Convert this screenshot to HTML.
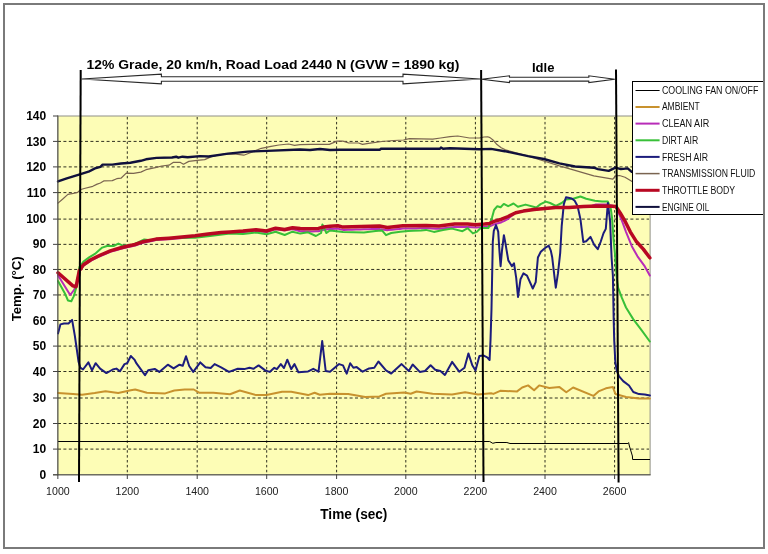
<!DOCTYPE html>
<html><head><meta charset="utf-8"><style>
html,body{margin:0;padding:0;background:#fff;width:768px;height:554px;overflow:hidden}
svg{display:block}
text{font-family:"Liberation Sans",Arial,sans-serif;fill:#000}
.yl{font-size:12px;font-weight:bold}
.xl{font-size:10.6px;fill:#222}
.tt{font-size:13px;font-weight:bold}
.at{font-size:13.8px;font-weight:bold}
.at2{font-size:13px;font-weight:bold}
.lg{font-size:10px;fill:#111}
</style></head><body>
<svg width="768" height="554" viewBox="0 0 768 554">
<rect width="768" height="554" fill="#fff"/>
<rect x="57.85" y="116" width="592.25" height="358.8" fill="#fdfdb6" stroke="#909088" stroke-width="1"/>
<line x1="58" y1="449.10" x2="649" y2="449.10" stroke="#303020" stroke-width="1" stroke-dasharray="3,2.4"/>
<line x1="58" y1="423.50" x2="649" y2="423.50" stroke="#303020" stroke-width="1" stroke-dasharray="3,2.4"/>
<line x1="58" y1="398.00" x2="649" y2="398.00" stroke="#303020" stroke-width="1" stroke-dasharray="3,2.4"/>
<line x1="58" y1="371.50" x2="649" y2="371.50" stroke="#303020" stroke-width="1" stroke-dasharray="3,2.4"/>
<line x1="58" y1="346.10" x2="649" y2="346.10" stroke="#303020" stroke-width="1" stroke-dasharray="3,2.4"/>
<line x1="58" y1="320.50" x2="649" y2="320.50" stroke="#303020" stroke-width="1" stroke-dasharray="3,2.4"/>
<line x1="58" y1="294.95" x2="649" y2="294.95" stroke="#303020" stroke-width="1" stroke-dasharray="3,2.4"/>
<line x1="58" y1="269.45" x2="649" y2="269.45" stroke="#303020" stroke-width="1" stroke-dasharray="3,2.4"/>
<line x1="58" y1="244.35" x2="649" y2="244.35" stroke="#303020" stroke-width="1" stroke-dasharray="3,2.4"/>
<line x1="58" y1="219.10" x2="649" y2="219.10" stroke="#303020" stroke-width="1" stroke-dasharray="3,2.4"/>
<line x1="58" y1="192.60" x2="649" y2="192.60" stroke="#303020" stroke-width="1" stroke-dasharray="3,2.4"/>
<line x1="58" y1="166.90" x2="649" y2="166.90" stroke="#303020" stroke-width="1" stroke-dasharray="3,2.4"/>
<line x1="58" y1="141.40" x2="649" y2="141.40" stroke="#303020" stroke-width="1" stroke-dasharray="3,2.4"/>
<line x1="127.30" y1="117" x2="127.30" y2="474" stroke="#303020" stroke-width="1" stroke-dasharray="2.5,2.4"/>
<line x1="197.20" y1="117" x2="197.20" y2="474" stroke="#303020" stroke-width="1" stroke-dasharray="2.5,2.4"/>
<line x1="266.70" y1="117" x2="266.70" y2="474" stroke="#303020" stroke-width="1" stroke-dasharray="2.5,2.4"/>
<line x1="336.60" y1="117" x2="336.60" y2="474" stroke="#303020" stroke-width="1" stroke-dasharray="2.5,2.4"/>
<line x1="405.80" y1="117" x2="405.80" y2="474" stroke="#303020" stroke-width="1" stroke-dasharray="2.5,2.4"/>
<line x1="475.40" y1="117" x2="475.40" y2="474" stroke="#303020" stroke-width="1" stroke-dasharray="2.5,2.4"/>
<line x1="545.00" y1="117" x2="545.00" y2="474" stroke="#303020" stroke-width="1" stroke-dasharray="2.5,2.4"/>
<line x1="614.60" y1="117" x2="614.60" y2="474" stroke="#303020" stroke-width="1" stroke-dasharray="2.5,2.4"/>
<line x1="53" y1="474.80" x2="58" y2="474.80" stroke="#404040" stroke-width="1"/>
<line x1="53" y1="449.10" x2="58" y2="449.10" stroke="#404040" stroke-width="1"/>
<line x1="53" y1="423.50" x2="58" y2="423.50" stroke="#404040" stroke-width="1"/>
<line x1="53" y1="398.00" x2="58" y2="398.00" stroke="#404040" stroke-width="1"/>
<line x1="53" y1="371.50" x2="58" y2="371.50" stroke="#404040" stroke-width="1"/>
<line x1="53" y1="346.10" x2="58" y2="346.10" stroke="#404040" stroke-width="1"/>
<line x1="53" y1="320.50" x2="58" y2="320.50" stroke="#404040" stroke-width="1"/>
<line x1="53" y1="294.95" x2="58" y2="294.95" stroke="#404040" stroke-width="1"/>
<line x1="53" y1="269.45" x2="58" y2="269.45" stroke="#404040" stroke-width="1"/>
<line x1="53" y1="244.35" x2="58" y2="244.35" stroke="#404040" stroke-width="1"/>
<line x1="53" y1="219.10" x2="58" y2="219.10" stroke="#404040" stroke-width="1"/>
<line x1="53" y1="192.60" x2="58" y2="192.60" stroke="#404040" stroke-width="1"/>
<line x1="53" y1="166.90" x2="58" y2="166.90" stroke="#404040" stroke-width="1"/>
<line x1="53" y1="141.40" x2="58" y2="141.40" stroke="#404040" stroke-width="1"/>
<line x1="53" y1="116.00" x2="58" y2="116.00" stroke="#404040" stroke-width="1"/>
<line x1="57.85" y1="474" x2="57.85" y2="479" stroke="#404040" stroke-width="1"/>
<line x1="127.30" y1="474" x2="127.30" y2="479" stroke="#404040" stroke-width="1"/>
<line x1="197.20" y1="474" x2="197.20" y2="479" stroke="#404040" stroke-width="1"/>
<line x1="266.70" y1="474" x2="266.70" y2="479" stroke="#404040" stroke-width="1"/>
<line x1="336.60" y1="474" x2="336.60" y2="479" stroke="#404040" stroke-width="1"/>
<line x1="405.80" y1="474" x2="405.80" y2="479" stroke="#404040" stroke-width="1"/>
<line x1="475.40" y1="474" x2="475.40" y2="479" stroke="#404040" stroke-width="1"/>
<line x1="545.00" y1="474" x2="545.00" y2="479" stroke="#404040" stroke-width="1"/>
<line x1="614.60" y1="474" x2="614.60" y2="479" stroke="#404040" stroke-width="1"/>
<polyline points="58.0,441.5 489.7,441.5 492.8,443.3 495.9,442.5 506.9,442.5 510.0,443.5 627.9,443.5 628.6,442.6 629.4,446.0 632.4,456.0 632.6,459.5 650.0,459.5" fill="none" stroke="#000" stroke-width="1"/>
<polyline points="58.0,393.0 73.0,393.9 82.0,394.8 94.7,393.0 105.5,391.2 118.2,393.0 130.8,390.3 135.2,389.5 146.9,392.7 165.2,393.4 174.3,390.5 184.7,389.5 193.8,389.5 199.0,392.7 213.3,392.7 230.0,394.2 239.8,390.5 256.0,395.1 266.5,395.1 282.1,391.8 291.2,391.8 308.1,395.1 314.6,392.8 319.8,394.8 330.0,393.8 348.2,394.1 365.2,397.1 379.5,396.4 386.0,393.8 404.2,392.5 410.7,393.8 416.6,391.5 432.6,393.8 452.1,394.5 465.1,392.2 478.1,394.5 491.1,393.2 493.4,393.9 500.2,390.8 517.1,391.4 522.2,387.5 528.1,385.4 534.1,390.2 539.2,385.4 549.3,388.0 559.5,387.1 566.3,392.2 573.1,387.5 593.4,395.9 598.5,391.4 605.9,388.3 612.9,387.1 615.4,394.0 626.1,397.0 639.1,398.4 649.9,398.4" fill="none" stroke="#c8922e" stroke-width="2" stroke-linejoin="round" stroke-linecap="round"/>
<polyline points="58.0,275.3 64.0,285.0 70.2,295.0 74.0,290.0 77.0,284.0 80.0,270.6 83.5,265.7 84.0,265.4 88.0,262.7 90.8,260.8 92.0,260.2 96.0,258.2 100.0,256.2 100.5,256.0 104.0,254.5 108.0,252.9 110.3,251.9 112.0,251.4 116.0,250.2 120.0,249.0 124.0,248.0 128.0,247.0 128.2,247.0 132.0,246.2 135.0,245.5 136.0,245.2 140.0,243.8 143.0,242.7 144.0,242.5 148.0,241.7 152.0,240.9 156.0,240.1 160.0,239.8 164.0,239.5 168.0,239.3 169.0,239.2 172.0,238.9 176.0,238.6 180.0,238.3 182.0,238.1 184.0,237.9 188.0,237.5 192.0,237.1 195.1,236.8 196.0,236.7 200.0,236.1 204.0,235.5 208.0,234.9 208.1,234.9 212.0,234.5 216.0,234.1 220.0,233.7 221.1,233.6 224.0,233.4 228.0,233.1 230.0,233.0 232.0,232.8 236.0,232.5 240.0,232.2 243.0,232.0 244.0,231.9 248.0,231.5 252.0,231.1 256.0,230.7 260.0,231.2 264.0,231.7 266.5,232.0 268.0,231.5 272.0,230.3 275.6,229.2 276.0,229.3 280.0,229.8 284.0,230.4 284.7,230.5 288.0,229.8 292.0,229.3 292.5,229.2 296.0,230.1 300.0,231.2 300.3,231.2 304.0,231.3 308.0,231.5 308.1,231.5 312.0,231.4 316.0,231.3 318.5,231.2 320.0,230.8 323.8,229.7 324.0,229.7 328.0,229.3 330.0,229.1 332.0,229.0 336.0,228.7 337.8,228.6 340.0,229.2 343.0,229.9 344.0,229.9 348.0,229.8 352.0,229.7 356.0,229.5 360.0,229.4 364.0,229.3 368.0,229.2 372.0,229.1 376.0,229.0 379.5,228.9 380.0,229.0 384.0,229.7 387.3,230.2 388.0,230.1 392.0,229.7 396.0,229.3 400.0,228.9 402.9,228.6 404.0,228.6 408.0,228.5 412.0,228.4 416.0,228.4 420.0,228.3 424.0,228.2 426.0,228.2 428.0,228.3 432.0,228.5 436.0,228.7 439.0,228.8 440.0,228.7 444.0,228.2 448.0,227.7 452.0,227.2 454.7,226.9 456.0,226.9 460.0,226.9 464.0,226.9 467.7,226.9 468.0,226.9 472.0,227.2 475.5,227.5 476.0,227.5 480.0,227.2 484.0,226.9 484.6,226.9 488.0,226.4 489.8,226.2 492.0,225.4 494.1,224.4 496.0,223.8 500.0,222.7 501.6,222.2 504.0,221.2 508.0,218.9 508.1,218.8 512.0,215.6 515.7,212.7 516.0,212.6 520.0,211.8 523.3,211.1 524.0,211.0 528.0,210.4 532.0,209.8 534.1,209.5 536.0,209.3 540.0,208.9 544.0,208.5 544.9,208.4 548.0,208.2 552.0,207.9 555.8,207.6 556.0,207.6 560.0,207.6 564.0,207.6 568.0,207.6 568.9,207.6 572.0,207.4 576.0,207.1 580.0,206.8 583.3,206.6 584.0,206.6 588.0,206.4 592.0,205.7 596.0,204.5 597.8,204.4 600.0,204.4 604.0,204.5 608.0,204.6 615.9,206.5 621.7,220.2 626.0,231.8 631.8,246.2 637.5,256.3 644.8,266.4 649.8,275.5" fill="none" stroke="#b82cb8" stroke-width="2" stroke-linejoin="round" stroke-linecap="round"/>
<polyline points="58.0,281.0 64.8,293.2 68.0,300.5 71.3,301.3 73.7,296.4 76.1,288.3 79.4,267.2 83.5,261.5 89.1,257.4 95.7,253.3 102.2,247.6 107.0,246.0 113.5,246.0 118.4,243.6 121.7,245.2 126.0,245.5 132.0,245.0 138.0,242.5 144.3,239.5 150.0,240.2 160.0,239.0 170.0,238.2 182.0,237.5 195.0,237.8 210.0,236.0 230.0,233.4 243.0,233.9 256.0,232.6 266.5,234.3 275.6,231.7 284.7,235.0 292.5,231.7 300.3,233.6 308.1,232.3 315.9,236.0 321.1,233.0 322.4,224.5 326.4,233.0 330.0,230.4 343.0,232.1 363.9,232.6 375.6,231.0 382.0,230.4 386.0,235.2 391.2,233.0 400.3,231.7 408.1,231.0 413.0,230.8 421.1,230.4 426.0,229.9 433.9,231.9 443.0,229.9 452.0,228.6 462.5,231.2 467.7,228.2 472.9,233.4 476.8,231.9 480.7,228.0 488.5,227.9 491.9,218.1 494.1,210.0 497.3,206.2 500.6,207.3 503.8,203.9 508.1,206.2 513.5,203.5 517.9,206.8 525.5,204.6 536.3,207.5 540.6,204.1 545.8,201.6 550.1,203.0 555.9,205.9 561.7,203.0 566.0,199.4 573.2,198.7 580.4,196.5 586.2,198.7 594.9,200.8 602.1,201.6 607.9,201.6 610.8,208.8 612.2,218.9 613.6,240.5 615.1,255.0 616.5,275.0 618.0,287.3 621.7,297.4 626.0,307.5 633.2,319.1 641.9,330.6 649.8,341.5" fill="none" stroke="#38c038" stroke-width="2" stroke-linejoin="round" stroke-linecap="round"/>
<polyline points="58.0,333.4 60.4,324.4 64.0,323.5 68.5,323.5 72.1,319.9 74.9,336.1 78.5,361.4 80.3,367.7 83.0,369.5 88.4,362.3 92.0,370.4 95.6,363.2 100.1,368.6 106.4,373.1 112.8,369.5 116.4,368.6 120.0,371.3 124.5,364.1 127.2,363.2 130.8,356.0 134.4,359.6 136.5,363.4 145.0,375.2 148.2,370.2 154.7,368.9 159.3,371.9 167.8,364.7 173.6,368.4 179.5,364.7 182.7,365.8 186.0,356.3 189.2,366.0 193.2,371.9 200.3,362.4 205.5,367.3 210.7,368.0 214.6,364.1 221.1,367.3 229.0,371.9 237.8,368.8 244.3,369.1 249.5,367.8 253.4,368.8 258.6,365.4 265.2,370.4 269.7,371.9 274.3,367.8 276.9,369.1 280.8,364.1 284.0,368.0 287.3,359.7 291.2,369.1 294.5,364.1 298.4,372.3 308.1,371.4 313.3,368.8 318.5,371.7 322.2,341.1 325.7,371.0 330.0,371.8 339.1,364.1 343.0,365.4 346.7,373.6 350.2,363.2 353.4,367.8 356.7,367.1 362.6,371.7 369.1,368.4 374.3,367.8 378.4,361.5 386.0,370.4 391.2,373.6 401.6,364.1 408.8,371.0 412.7,364.5 419.8,371.9 425.0,371.0 430.6,365.2 435.2,369.7 440.4,371.0 444.9,374.9 452.1,361.9 459.2,371.7 464.5,367.8 468.4,353.4 472.3,365.2 475.5,370.4 479.4,356.0 483.3,355.4 487.2,357.3 489.6,360.0 490.5,340.4 491.5,309.0 492.8,241.7 493.8,230.8 496.0,225.1 498.2,231.6 499.6,253.2 500.6,266.2 502.0,250.3 503.9,235.2 505.4,243.1 508.3,260.4 511.9,266.2 514.0,263.3 516.2,277.8 518.0,297.0 520.5,279.2 523.4,273.4 527.0,275.6 532.8,288.5 535.7,282.1 537.9,257.5 540.8,251.8 545.1,248.0 548.7,245.6 550.8,250.6 552.2,257.3 554.4,276.1 555.8,287.7 558.0,273.2 560.2,253.0 561.7,226.1 563.8,204.4 566.0,197.2 571.8,198.4 574.7,200.8 577.5,205.9 580.4,218.9 583.3,242.0 586.2,241.3 590.5,236.9 594.2,244.9 597.8,249.2 600.6,242.0 603.5,233.3 605.8,228.9 607.9,202.9 610.1,221.7 611.6,257.8 612.9,276.0 613.7,320.0 614.2,340.0 615.3,361.6 616.7,370.3 618.9,376.1 623.2,381.1 629.0,385.5 633.3,392.0 639.0,394.1 644.8,394.5 649.9,395.6" fill="none" stroke="#1c1c7c" stroke-width="2" stroke-linejoin="round" stroke-linecap="round"/>
<polyline points="58.0,203.1 62.5,199.3 67.9,194.4 73.3,193.3 77.7,192.3 80.9,189.5 84.2,188.5 92.8,186.3 97.2,184.1 100.4,183.0 103.7,180.9 112.3,180.6 116.7,178.7 121.0,178.2 126.2,173.1 133.5,173.3 140.8,172.1 146.0,169.7 156.5,167.3 161.7,166.0 169.0,165.2 173.1,162.4 180.4,162.4 183.5,164.2 188.8,161.4 197.1,160.3 204.7,159.6 212.5,156.1 224.2,154.2 236.0,154.2 243.8,155.2 251.6,152.2 261.3,148.3 271.1,146.4 278.9,145.0 288.7,144.0 294.5,145.4 300.0,144.7 311.7,144.4 329.3,144.4 337.0,141.1 343.0,141.1 348.8,143.0 358.6,143.0 362.5,144.4 368.4,143.4 382.0,141.5 393.8,140.5 403.5,140.0 409.4,138.6 432.8,139.1 440.6,138.0 450.0,136.6 457.8,136.0 469.5,138.0 479.3,138.0 484.0,137.0 487.7,136.8 490.0,137.6 493.0,140.0 497.0,144.6 501.2,147.7 505.4,149.8 528.1,156.1 543.8,161.0 559.4,165.9 575.0,170.4 593.8,175.9 612.8,179.2 615.5,175.9 619.5,175.5 625.0,177.2 631.7,181.3 650.0,186.0" fill="none" stroke="#7a6450" stroke-width="1.2" stroke-linejoin="round" stroke-linecap="round"/>
<polyline points="58.0,272.8 72.9,285.9 76.1,286.7 79.4,270.4 83.5,264.7 90.8,259.8 100.5,255.0 110.3,250.9 120.0,248.0 128.2,246.0 135.0,244.5 143.0,241.7 156.0,239.1 169.0,238.2 182.0,237.1 195.1,235.8 208.1,233.9 221.1,232.6 230.0,232.0 243.0,231.0 256.0,229.7 266.5,231.0 275.6,228.2 284.7,229.5 292.5,227.8 300.3,228.4 308.1,228.7 318.5,228.4 323.8,226.9 330.0,226.3 337.8,225.8 343.0,227.1 379.5,226.1 387.3,227.4 402.9,225.8 426.0,225.4 439.0,226.0 454.7,224.1 467.7,224.1 475.5,224.7 484.6,224.1 489.8,223.4 494.1,221.4 501.6,219.2 508.1,216.5 515.7,212.7 523.3,211.1 534.1,209.5 544.9,208.4 555.8,207.6 568.9,207.6 583.3,206.6 597.8,205.9 612.2,206.2 615.9,206.5 620.2,213.0 625.3,221.7 630.3,231.8 636.1,241.2 643.3,249.1 649.8,257.8" fill="none" stroke="#b80822" stroke-width="3.5" stroke-linejoin="round" stroke-linecap="round"/>
<polyline points="58.0,181.4 66.8,178.4 79.8,174.4 88.5,171.7 95.0,168.4 100.4,166.8 102.6,164.6 112.3,164.6 121.0,163.5 130.4,162.7 140.8,160.8 146.0,159.3 156.5,157.9 172.0,157.5 176.2,156.7 178.3,157.7 182.5,156.7 187.7,157.2 200.0,156.1 208.6,156.5 228.0,153.6 247.7,151.6 267.2,150.9 300.0,149.5 310.0,150.0 320.0,149.0 330.0,150.0 340.0,149.7 380.0,149.7 381.0,148.7 440.0,148.7 441.0,147.5 443.0,148.7 450.0,148.3 479.3,149.3 491.0,148.9 504.7,151.2 528.1,156.1 543.8,159.0 559.4,163.4 575.0,166.5 593.8,167.7 597.9,169.1 608.7,170.9 615.5,167.7 620.9,169.1 627.7,168.4 631.7,171.8 650.0,174.0" fill="none" stroke="#10103c" stroke-width="2.4" stroke-linejoin="round" stroke-linecap="round"/>
<line x1="57.85" y1="115.5" x2="57.85" y2="475.3" stroke="#505048" stroke-width="1"/>
<line x1="53" y1="474.8" x2="650.6" y2="474.8" stroke="#505048" stroke-width="1"/>
<text x="46.2" y="478.9" text-anchor="end" class="yl">0</text>
<text x="46.2" y="453.2" text-anchor="end" class="yl">10</text>
<text x="46.2" y="427.6" text-anchor="end" class="yl">20</text>
<text x="46.2" y="402.1" text-anchor="end" class="yl">30</text>
<text x="46.2" y="375.6" text-anchor="end" class="yl">40</text>
<text x="46.2" y="350.2" text-anchor="end" class="yl">50</text>
<text x="46.2" y="324.6" text-anchor="end" class="yl">60</text>
<text x="46.2" y="299.1" text-anchor="end" class="yl">70</text>
<text x="46.2" y="273.6" text-anchor="end" class="yl">80</text>
<text x="46.2" y="248.4" text-anchor="end" class="yl">90</text>
<text x="46.2" y="223.2" text-anchor="end" class="yl">100</text>
<text x="46.2" y="196.7" text-anchor="end" class="yl">110</text>
<text x="46.2" y="171.0" text-anchor="end" class="yl">120</text>
<text x="46.2" y="145.5" text-anchor="end" class="yl">130</text>
<text x="46.2" y="120.1" text-anchor="end" class="yl">140</text>
<text x="57.9" y="494.6" text-anchor="middle" class="xl">1000</text>
<text x="127.3" y="494.6" text-anchor="middle" class="xl">1200</text>
<text x="197.2" y="494.6" text-anchor="middle" class="xl">1400</text>
<text x="266.7" y="494.6" text-anchor="middle" class="xl">1600</text>
<text x="336.6" y="494.6" text-anchor="middle" class="xl">1800</text>
<text x="405.8" y="494.6" text-anchor="middle" class="xl">2000</text>
<text x="475.4" y="494.6" text-anchor="middle" class="xl">2200</text>
<text x="545.0" y="494.6" text-anchor="middle" class="xl">2400</text>
<text x="614.6" y="494.6" text-anchor="middle" class="xl">2600</text>
<line x1="80.7" y1="70" x2="79" y2="482" stroke="#000" stroke-width="2"/>
<line x1="481.1" y1="70" x2="483.5" y2="482" stroke="#000" stroke-width="2"/>
<line x1="616" y1="69.5" x2="618.6" y2="482.5" stroke="#000" stroke-width="2"/>
<polygon points="81.7,79.0 161.4,74.1 161.4,76.7 403.0,76.7 403.0,74.1 480.0,79.0 403.0,83.9 403.0,81.3 161.4,81.3 161.4,83.9" fill="#fff" stroke="#282828" stroke-width="1.1"/>
<polygon points="481.5,79.2 509.5,75.8 509.5,77.3 588.8,77.3 588.8,75.8 614.8,79.2 588.8,82.6 588.8,81.1 509.5,81.1 509.5,82.6" fill="#fff" stroke="#282828" stroke-width="1.1"/>
<text x="86.6" y="69.1" class="tt" textLength="372.8" lengthAdjust="spacingAndGlyphs">12% Grade, 20 km/h, Road Load 2440 N (GVW = 1890 kg)</text>
<text x="532" y="71.9" class="tt" textLength="22.4" lengthAdjust="spacingAndGlyphs">Idle</text>
<text x="320.3" y="518.5" class="at" textLength="67.1" lengthAdjust="spacingAndGlyphs">Time (sec)</text>
<text transform="translate(20.5,321.3) rotate(-90)" class="at2" textLength="65" lengthAdjust="spacingAndGlyphs">Temp. (°C)</text>
<rect x="632.5" y="81.5" width="131" height="133" fill="#fff" stroke="#000" stroke-width="1"/>
<line x1="635.5" y1="90.5" x2="659.6" y2="90.5" stroke="#000000" stroke-width="1"/>
<text x="661.9" y="93.5" class="lg" textLength="96.5" lengthAdjust="spacingAndGlyphs">COOLING FAN ON/OFF</text>
<line x1="635.5" y1="107.0" x2="659.6" y2="107.0" stroke="#c8922e" stroke-width="2"/>
<text x="661.9" y="110.2" class="lg" textLength="37.8" lengthAdjust="spacingAndGlyphs">AMBIENT</text>
<line x1="635.5" y1="123.6" x2="659.6" y2="123.6" stroke="#b82cb8" stroke-width="2"/>
<text x="661.9" y="127.0" class="lg" textLength="47.3" lengthAdjust="spacingAndGlyphs">CLEAN AIR</text>
<line x1="635.5" y1="140.3" x2="659.6" y2="140.3" stroke="#38c038" stroke-width="2"/>
<text x="661.9" y="143.8" class="lg" textLength="36.4" lengthAdjust="spacingAndGlyphs">DIRT AIR</text>
<line x1="635.5" y1="156.9" x2="659.6" y2="156.9" stroke="#1c1c7c" stroke-width="2"/>
<text x="661.9" y="160.5" class="lg" textLength="46.1" lengthAdjust="spacingAndGlyphs">FRESH AIR</text>
<line x1="635.5" y1="173.6" x2="659.6" y2="173.6" stroke="#7a6450" stroke-width="1.5"/>
<text x="661.9" y="177.2" class="lg" textLength="93.5" lengthAdjust="spacingAndGlyphs">TRANSMISSION FLUID</text>
<line x1="635.5" y1="190.3" x2="659.6" y2="190.3" stroke="#b80822" stroke-width="3"/>
<text x="661.9" y="194.0" class="lg" textLength="73.3" lengthAdjust="spacingAndGlyphs">THROTTLE BODY</text>
<line x1="635.5" y1="206.9" x2="659.6" y2="206.9" stroke="#10103c" stroke-width="2"/>
<text x="661.9" y="210.8" class="lg" textLength="47.5" lengthAdjust="spacingAndGlyphs">ENGINE OIL</text>
<rect x="4" y="4" width="760" height="544" fill="none" stroke="#7a7a7a" stroke-width="2"/>
</svg>
</body></html>
